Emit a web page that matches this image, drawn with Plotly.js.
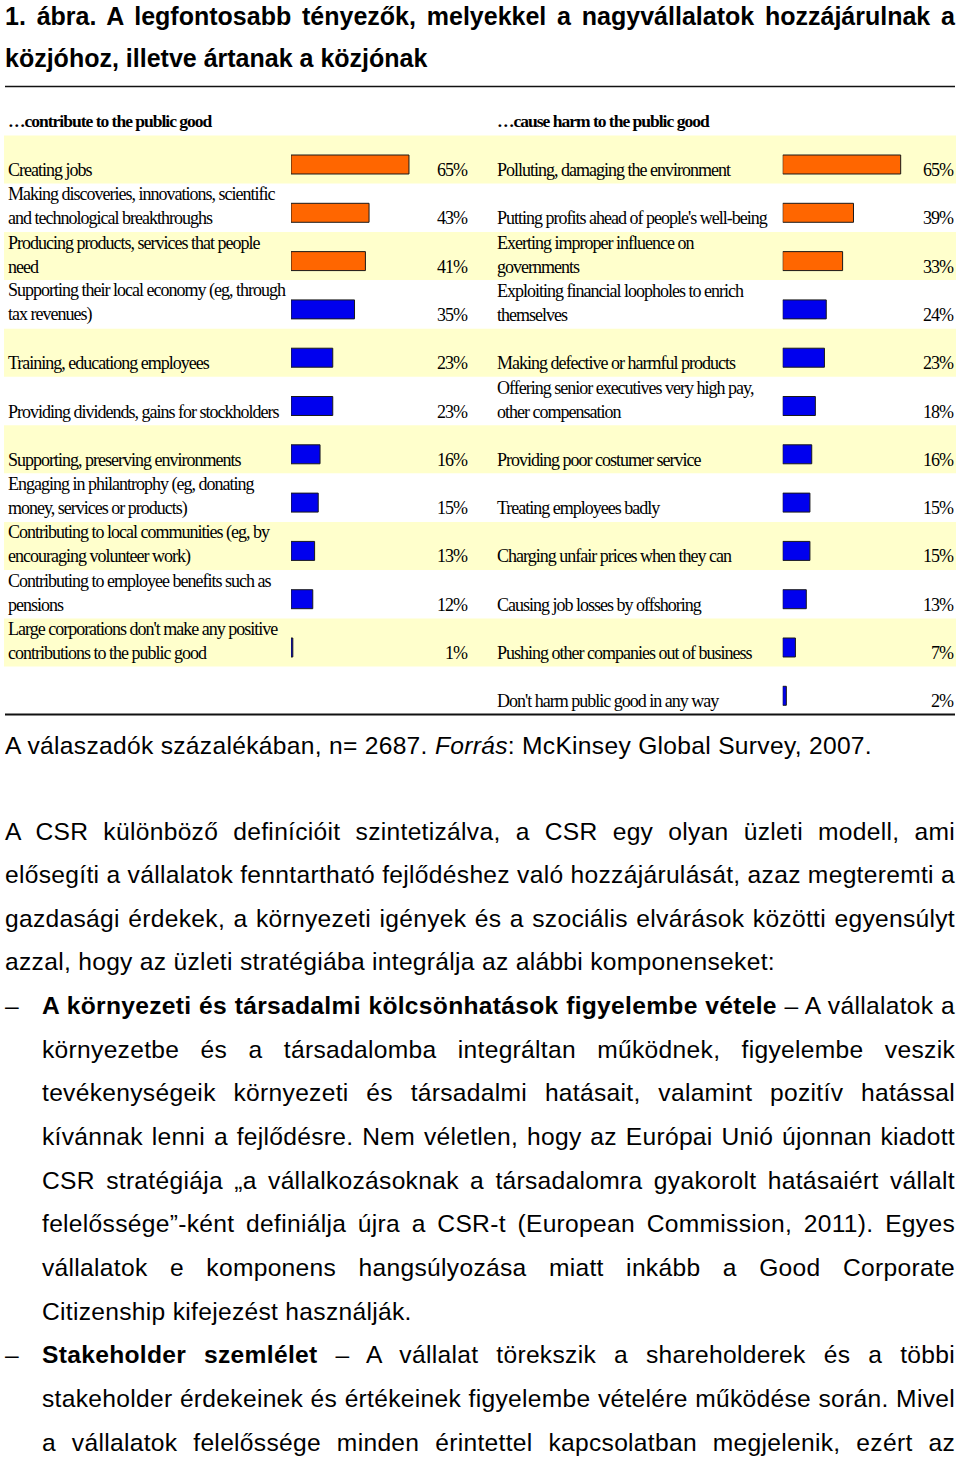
<!DOCTYPE html>
<html>
<head>
<meta charset="utf-8">
<script src="https://cdn.plot.ly/plotly-3.0.1.min.js"></script>
<style>
html,body{margin:0;padding:0;background:#fff;}
#page{position:relative;width:960px;height:1459px;overflow:hidden;background:#fff;}
#chart{position:absolute;left:0;top:0;width:960px;height:730px;}
.ln{position:absolute;font-family:"Liberation Sans",Arial,Helvetica,sans-serif;font-size:24.6px;letter-spacing:0.3px;line-height:30px;color:#000;}
.ttl{font-weight:bold;font-size:25px;letter-spacing:0;}
.j{text-align:justify;text-align-last:justify;}
.l{text-align:left;}
text.annotation-text{letter-spacing:-1px;}
</style>
</head>
<body>
<div id="page">
  <div id="chart"></div>
</div>
<script>
// ---------------- data ----------------
const leftHeader = "…contribute to the public good";
const rightHeader = "…cause harm to the public good";
const leftLabels = [
  "Creating jobs",
  "Making discoveries, innovations, scientific<br>and technological breakthroughs",
  "Producing products, services that people<br>need",
  "Supporting their local economy (eg, through<br>tax revenues)",
  "Training, educationg employees",
  "Providing dividends, gains for stockholders",
  "Supporting, preserving environments",
  "Engaging in philantrophy (eg, donating<br>money, services or products)",
  "Contributing to local communities (eg, by<br>encouraging volunteer work)",
  "Contributing to employee benefits such as<br>pensions",
  "Large corporations don't make any positive<br>contributions to the public good"
];
const leftValues = [65, 43, 41, 35, 23, 23, 16, 15, 13, 12, 1];
const rightLabels = [
  "Polluting, damaging the environment",
  "Putting profits ahead of people's well-being",
  "Exerting improper influence on<br>governments",
  "Exploiting financial loopholes to enrich<br>themselves",
  "Making defective or harmful products",
  "Offering senior executives very high pay,<br>other compensation",
  "Providing poor costumer service",
  "Treating employees badly",
  "Charging unfair prices when they can",
  "Causing job losses by offshoring",
  "Pushing other companies out of business",
  "Don't harm public good in any way"
];
const rightValues = [65, 39, 33, 24, 23, 18, 16, 15, 15, 13, 7, 2];
const topCount = 3; // first three items in each column are highlighted

const titleLines = [
  "1. ábra. A legfontosabb tényezők, melyekkel a nagyvállalatok hozzájárulnak a",
  "közjóhoz, illetve ártanak a közjónak"
];
const captionHtml = "A válaszadók százalékában, n= 2687. <i>Forrás</i>: McKinsey Global Survey, 2007.";
const bodyLines = [
  ["A CSR különböző definícióit szintetizálva, a CSR egy olyan üzleti modell, ami", "j", false],
  ["elősegíti a vállalatok fenntartható fejlődéshez való hozzájárulását, azaz megteremti a", "j", false],
  ["gazdasági érdekek, a környezeti igények és a szociális elvárások közötti egyensúlyt", "j", false],
  ["azzal, hogy az üzleti stratégiába integrálja az alábbi komponenseket:", "l", false],
  ["<b>A környezeti és társadalmi kölcsönhatások figyelembe vétele</b> – A vállalatok a", "j", "dash"],
  ["környezetbe és a társadalomba integráltan működnek, figyelembe veszik", "j", true],
  ["tevékenységeik környezeti és társadalmi hatásait, valamint pozitív hatással", "j", true],
  ["kívánnak lenni a fejlődésre. Nem véletlen, hogy az Európai Unió újonnan kiadott", "j", true],
  ["CSR stratégiája „a vállalkozásoknak a társadalomra gyakorolt hatásaiért vállalt", "j", true],
  ["felelőssége”-ként definiálja újra a CSR-t (European Commission, 2011). Egyes", "j", true],
  ["vállalatok e komponens hangsúlyozása miatt inkább a Good Corporate", "j", true],
  ["Citizenship kifejezést használják.", "l", true],
  ["<b>Stakeholder szemlélet</b> – A vállalat törekszik a shareholderek és a többi", "j", "dash"],
  ["stakeholder érdekeinek és értékeinek figyelembe vételére működése során. Mivel", "j", true],
  ["a vállalatok felelőssége minden érintettel kapcsolatban megjelenik, ezért az", "j", true]
];

// ---------------- layout helpers ----------------
const H = 730, W = 960;
const row0 = 164.5, rowH = 48.3;            // pixel centre of first bar row, row pitch
const yTop = (0 - row0) / rowH, yBot = (H - row0) / rowH;
const pxPerPct = 1.815;
const lx0 = 291, rx0 = 782.7, xmax = 80;
const ORANGE = "#FF6600", BLUE = "#0000EE";
const serif = "Liberation Serif, Times New Roman, serif";

function colorsFor(vals){ return vals.map((v,i)=> i < topCount ? ORANGE : BLUE); }

const traces = [
  {type:"bar", orientation:"h", x:leftValues, y:leftLabels, xaxis:"x", yaxis:"y",
   width:0.393, marker:{color:colorsFor(leftValues), line:{color:"#1a1a1a", width:1}},
   hoverinfo:"skip", showlegend:false},
  {type:"bar", orientation:"h", x:rightValues, y:rightLabels, xaxis:"x2", yaxis:"y2",
   width:0.393, marker:{color:colorsFor(rightValues), line:{color:"#1a1a1a", width:1}},
   hoverinfo:"skip", showlegend:false}
];

const ann = [];
const shapes = [];
function addColumn(labels, values, yref, xLab, xPct){
  labels.forEach((lab, i) => {
    const parts = lab.split("<br>");
    const n = parts.length;
    parts.forEach((p, j) => {
      const baseOff = 11.5 - 24 * (n - 1 - j);   // baseline offset from bar centre
      ann.push({xref:"paper", yref:yref, x:xLab/W, y:i, xanchor:"left", yanchor:"middle",
        yshift:-(baseOff - 6), text:p, showarrow:false,
        font:{family:serif, size:18, color:"#000"}});
    });
    ann.push({xref:"paper", yref:yref, x:xPct/W, y:i, xanchor:"right", yanchor:"middle",
      yshift:-(11.5 - 6), text:values[i] + "%", showarrow:false,
      font:{family:serif, size:18, color:"#000"}});
  });
}
addColumn(leftLabels, leftValues, "y", 6, 470);
addColumn(rightLabels, rightValues, "y2", 495, 956);

ann.push({xref:"paper", yref:"paper", x:6/W, y:1-121/H, xanchor:"left", yanchor:"middle",
  text:"<b>"+leftHeader+"</b>", showarrow:false, font:{family:serif, size:17.5, color:"#000"}});
ann.push({xref:"paper", yref:"paper", x:495/W, y:1-121/H, xanchor:"left", yanchor:"middle",
  text:"<b>"+rightHeader+"</b>", showarrow:false, font:{family:serif, size:17.5, color:"#000"}});

// alternating stripes behind rows
const nRows = Math.max(leftLabels.length, rightLabels.length);
for (let i = 0; i < nRows - 1; i += 2) {
  shapes.push({type:"rect", layer:"below", xref:"paper", yref:"y", x0:4/W, x1:956/W,
    y0:i - 29/rowH, y1:i + 19/rowH, fillcolor:"#FFFFCC", line:{width:0}});
}
// rules
shapes.push({type:"line", xref:"paper", yref:"paper", x0:5/W, x1:955/W, y0:1-86.5/H, y1:1-86.5/H,
  line:{color:"#111", width:1.5}});
shapes.push({type:"line", xref:"paper", yref:"paper", x0:5/W, x1:955/W, y0:1-714.5/H, y1:1-714.5/H,
  line:{color:"#111", width:2}});

const hidden = {visible:false, showgrid:false, zeroline:false, fixedrange:true};
const layout = {
  width:W, height:H, margin:{l:0, r:0, t:0, b:0},
  paper_bgcolor:"rgba(0,0,0,0)", plot_bgcolor:"rgba(0,0,0,0)",
  showlegend:false, bargap:0,
  xaxis:Object.assign({domain:[lx0/W, (lx0 + pxPerPct*xmax)/W], range:[0, xmax], anchor:"y"}, hidden),
  xaxis2:Object.assign({domain:[rx0/W, (rx0 + pxPerPct*xmax)/W], range:[0, xmax], anchor:"y2"}, hidden),
  yaxis:Object.assign({type:"category", categoryarray:leftLabels, categoryorder:"array",
    range:[yBot, yTop], domain:[0,1], anchor:"x"}, hidden),
  yaxis2:Object.assign({type:"category", categoryarray:rightLabels, categoryorder:"array",
    range:[yBot, yTop], domain:[0,1], anchor:"x2"}, hidden),
  annotations:ann, shapes:shapes
};
Plotly.newPlot("chart", traces, layout, {displayModeBar:false, staticPlot:true});

// ---------------- document text ----------------
const page = document.getElementById("page");
function addLine(html, cls, left, width, top){
  const d = document.createElement("div");
  d.className = "ln " + cls;
  d.style.left = left + "px"; d.style.width = width + "px"; d.style.top = top + "px";
  d.innerHTML = html;
  page.appendChild(d);
  return d;
}
// title (25px bold): baseline = top + 23.7
addLine(titleLines[0], "ttl j", 5, 950, 25 - 23.7);
addLine(titleLines[1], "ttl l", 5, 950, 66.7 - 23.7);
// caption
addLine(captionHtml, "l", 5, 950, 754 - 23.5);
// body
bodyLines.forEach((b, i) => {
  const base = 840 + 43.65 * i;
  const top = base - 23.5;
  if (b[2] === "dash") addLine("–", "l", 5, 30, top);
  const indent = b[2] ? 42 : 5;
  addLine(b[0], b[1], indent, 955 - indent, top);
});
</script>
</body>
</html>
